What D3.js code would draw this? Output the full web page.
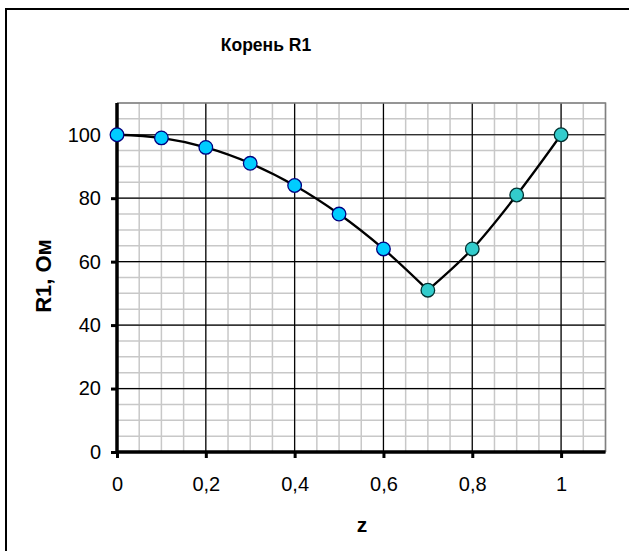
<!DOCTYPE html>
<html lang="ru">
<head>
<meta charset="utf-8">
<title>Корень R1</title>
<script src="https://cdn.jsdelivr.net/npm/d3@7"></script>
<style>
  body { margin: 0; background: #fff; }
  text { font-family: "Liberation Sans", Arial, sans-serif; }
</style>
</head>
<body>
<script>
// data
var zValues = [0, 0.1, 0.2, 0.3, 0.4, 0.5, 0.6, 0.7, 0.8, 0.9, 1];
var r1Values = [100, 99, 96, 91, 84, 75, 64, 51, 64, 81, 100];
// which marker style each point uses (0 = blue, 1 = teal)
var markerGroup = [0, 0, 0, 0, 0, 0, 0, 1, 1, 1, 1];
var xTicks = [0, 0.2, 0.4, 0.6, 0.8, 1];
var yTicks = [0, 20, 40, 60, 80, 100];

var w = 629, h = 551;
var plotLeft = 117, plotRight = 605.5, plotTop = 103, plotBottom = 452;

var svg = d3.select("body").append("svg")
    .attr("width", w)
    .attr("height", h);

// outer chart border
svg.append("rect")
    .attr("x", 6).attr("y", 9)
    .attr("width", 640).attr("height", 560)
    .attr("fill", "#fff")
    .attr("stroke", "#000")
    .attr("stroke-width", 2);

var xScale = d3.scaleLinear().domain([0, 1.1]).range([plotLeft, plotRight]);
var yScale = d3.scaleLinear().domain([0, 110]).range([plotBottom, plotTop]);

// minor grid
var grid = svg.append("g");
grid.selectAll("line.vminor")
    .data(d3.range(0, 1.1001, 0.05))
    .enter().append("line")
    .attr("x1", function (d) { return xScale(d); })
    .attr("x2", function (d) { return xScale(d); })
    .attr("y1", plotTop).attr("y2", plotBottom)
    .attr("stroke", "#c8c8c8").attr("stroke-width", 1.5);
grid.selectAll("line.hminor")
    .data(d3.range(0, 110.01, 5))
    .enter().append("line")
    .attr("y1", function (d) { return yScale(d); })
    .attr("y2", function (d) { return yScale(d); })
    .attr("x1", plotLeft).attr("x2", plotRight)
    .attr("stroke", "#c8c8c8").attr("stroke-width", 1.5);

// major grid
grid.selectAll("line.vmajor")
    .data(xTicks)
    .enter().append("line")
    .attr("x1", function (d) { return xScale(d); })
    .attr("x2", function (d) { return xScale(d); })
    .attr("y1", plotTop).attr("y2", plotBottom)
    .attr("stroke", "#000").attr("stroke-width", 1.2);
grid.selectAll("line.hmajor")
    .data(yTicks)
    .enter().append("line")
    .attr("y1", function (d) { return yScale(d); })
    .attr("y2", function (d) { return yScale(d); })
    .attr("x1", plotLeft).attr("x2", plotRight)
    .attr("stroke", "#000").attr("stroke-width", 1.2);

// plot frame (top and right grey)
svg.append("path")
    .attr("d", "M" + plotLeft + "," + plotTop + "H" + plotRight + "V" + plotBottom)
    .attr("fill", "none")
    .attr("stroke", "#808080")
    .attr("stroke-width", 1.5);

// axes
var fmt = function (d) { return String(d).replace(".", ","); };

var xAxis = svg.append("g")
    .attr("transform", "translate(0," + plotBottom + ")")
    .call(d3.axisBottom(xScale).tickValues(xTicks).tickFormat(fmt).tickSize(6).tickSizeOuter(0).tickPadding(19));
var yAxis = svg.append("g")
    .attr("transform", "translate(" + plotLeft + ",0)")
    .call(d3.axisLeft(yScale).tickValues(yTicks).tickSize(6).tickSizeOuter(0).tickPadding(10));

[xAxis, yAxis].forEach(function (a) {
    a.select(".domain").attr("stroke", "#000").attr("stroke-width", 3.5);
    a.selectAll(".tick line").attr("stroke", "#000").attr("stroke-width", 3);
    a.selectAll(".tick text")
        .attr("font-family", "Liberation Sans, Arial, sans-serif")
        .attr("font-size", "20px")
        .attr("fill", "#000");
});
xAxis.select(".domain").attr("d", "M" + plotLeft + ",0H" + plotRight);
yAxis.select(".domain").attr("d", "M0," + plotBottom + "V" + plotTop);

// line: smooth on each side of the minimum, sharp at the minimum
var points = zValues.map(function (z, i) {
    return { z: z, r: r1Values[i], g: markerGroup[i] };
});
var minIdx = d3.minIndex(r1Values);

var line = d3.line()
    .x(function (d) { return xScale(d.z); })
    .y(function (d) { return yScale(d.r); })
    .curve(d3.curveCatmullRom.alpha(0.5));

svg.selectAll("path.curve")
    .data([points.slice(0, minIdx + 1), points.slice(minIdx)])
    .enter().append("path")
    .attr("class", "curve")
    .attr("d", line)
    .attr("fill", "none")
    .attr("stroke", "#000")
    .attr("stroke-width", 2.3)
    .attr("stroke-linejoin", "round");

// markers
var fills = ["#00ccff", "#33cccc"];
var strokes = ["#000080", "#003333"];
svg.selectAll("circle")
    .data(points)
    .enter().append("circle")
    .attr("cx", function (d) { return xScale(d.z); })
    .attr("cy", function (d) { return yScale(d.r); })
    .attr("r", 6.8)
    .attr("fill", function (d) { return fills[d.g]; })
    .attr("stroke", function (d) { return strokes[d.g]; })
    .attr("stroke-width", 1.3);

// titles
svg.append("text")
    .attr("x", 266).attr("y", 51)
    .attr("text-anchor", "middle")
    .attr("font-size", "17.5px")
    .attr("font-weight", "bold")
    .text("Корень R1");

svg.append("text")
    .attr("x", 362).attr("y", 532)
    .attr("text-anchor", "middle")
    .attr("font-size", "21px")
    .attr("font-weight", "bold")
    .text("z");

svg.append("text")
    .attr("transform", "translate(51,276) rotate(-90)")
    .attr("text-anchor", "middle")
    .attr("font-size", "22px")
    .attr("font-weight", "bold")
    .text("R1, Ом");
</script>
</body>
</html>
